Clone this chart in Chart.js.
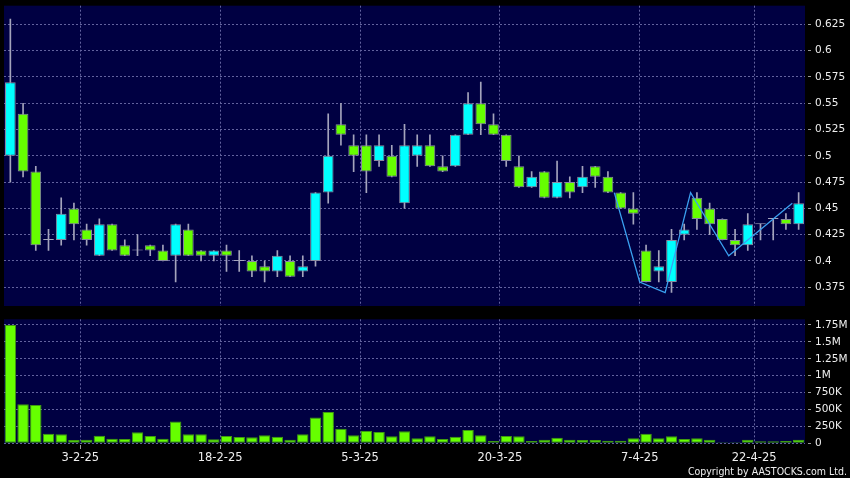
<!DOCTYPE html>
<html><head><meta charset="utf-8">
<script src="https://cdn.jsdelivr.net/npm/chart.js@4.4.0/dist/chart.umd.min.js"></script>
<style>
html,body{margin:0;padding:0;background:#000;width:850px;height:478px;overflow:hidden}
#p{position:absolute;left:0;top:0;width:850px;height:310px}
#v{position:absolute;left:0;top:310px;width:850px;height:168px}
#copy{position:absolute;right:3px;top:465px;color:#eeeeee;font-size:10.5px;line-height:13px;font-family:'DejaVu Sans Condensed','DejaVu Sans',sans-serif;white-space:nowrap}
</style></head><body>
<div id="p"><canvas id="pc"></canvas></div>
<div id="v"><canvas id="vc"></canvas></div>
<div id="copy">Copyright by AASTOCKS.com Ltd.</div>
<script>
// ---- data ----
const dates = ['21-1-25','22-1-25','23-1-25','24-1-25','27-1-25','28-1-25',
 '3-2-25','4-2-25','5-2-25','6-2-25','7-2-25','10-2-25','11-2-25','12-2-25','13-2-25','14-2-25','17-2-25',
 '18-2-25','19-2-25','20-2-25','21-2-25','24-2-25','25-2-25','26-2-25','27-2-25','28-2-25','3-3-25','4-3-25',
 '5-3-25','6-3-25','7-3-25','10-3-25','11-3-25','12-3-25','13-3-25','14-3-25','17-3-25','18-3-25','19-3-25',
 '20-3-25','21-3-25','24-3-25','25-3-25','26-3-25','27-3-25','28-3-25','31-3-25','1-4-25','2-4-25','3-4-25',
 '7-4-25','8-4-25','9-4-25','10-4-25','11-4-25','14-4-25','15-4-25','16-4-25','17-4-25',
 '22-4-25','23-4-25','24-4-25','25-4-25'];
const openP  = [0.50,0.54,0.485,0.42,0.42,0.45,0.43,0.405,0.435,0.415,0.41,0.415,0.41,0.405,0.43,0.41,0.405,
 0.41,0.40,0.40,0.395,0.39,0.40,0.39,0.40,0.465,0.53,0.51,0.51,0.495,0.50,0.455,0.50,0.51,0.49,0.49,0.52,
 0.55,0.53,0.52,0.49,0.47,0.485,0.46,0.475,0.47,0.49,0.48,0.465,0.45,0.41,0.39,0.38,0.425,0.46,0.45,0.44,
 0.42,0.415,0.435,0.44,0.44,0.435];
const highP  = [0.63,0.55,0.49,0.43,0.46,0.455,0.435,0.44,0.435,0.42,0.425,0.415,0.415,0.435,0.435,0.41,0.41,
 0.415,0.41,0.405,0.40,0.41,0.405,0.405,0.465,0.54,0.55,0.52,0.52,0.52,0.51,0.53,0.52,0.52,0.50,0.52,0.56,
 0.57,0.54,0.52,0.50,0.485,0.485,0.495,0.48,0.49,0.49,0.485,0.465,0.465,0.415,0.41,0.43,0.435,0.465,0.455,0.44,
 0.43,0.445,0.435,0.44,0.445,0.465];
const lowP   = [0.475,0.48,0.41,0.41,0.415,0.42,0.415,0.405,0.41,0.405,0.405,0.405,0.40,0.38,0.405,0.40,0.40,
 0.39,0.39,0.385,0.38,0.385,0.385,0.385,0.395,0.455,0.51,0.485,0.465,0.49,0.48,0.45,0.49,0.49,0.485,0.49,0.52,
 0.52,0.52,0.49,0.47,0.47,0.46,0.46,0.46,0.465,0.47,0.465,0.45,0.435,0.38,0.38,0.37,0.42,0.43,0.425,0.42,
 0.405,0.41,0.42,0.42,0.43,0.43];
const closeP = [0.57,0.485,0.415,0.42,0.445,0.435,0.42,0.435,0.41,0.405,0.41,0.41,0.40,0.435,0.405,0.405,0.41,
 0.405,0.40,0.39,0.39,0.405,0.385,0.395,0.465,0.50,0.52,0.50,0.485,0.51,0.48,0.51,0.51,0.49,0.485,0.52,0.55,
 0.53,0.52,0.495,0.47,0.48,0.46,0.475,0.465,0.48,0.48,0.465,0.45,0.445,0.38,0.395,0.42,0.43,0.44,0.435,0.42,
 0.415,0.435,0.435,0.44,0.435,0.455];
const volume = [1750000,579000,565000,142000,133000,49000,54000,113000,69000,64000,162000,108000,69000,324000,
 133000,133000,59000,108000,93000,88000,118000,98000,54000,133000,383000,462000,216000,118000,182000,167000,
 103000,177000,74000,103000,64000,98000,196000,118000,34000,108000,103000,34000,54000,83000,54000,49000,49000,
 39000,39000,74000,142000,74000,103000,64000,74000,54000,15000,15000,54000,29000,29000,34000,54000];
// overlay line (x in trading-day index units, y price)
const lineX = [47.5,49.5,51.5,53.5,56.5,61.5];
const lineY = [0.465,0.38,0.37,0.465,0.405,0.455];
const dateTickLabels = ['3-2-25','18-2-25','5-3-25','20-3-25','7-4-25','22-4-25'];
const priceTicks = [0.375,0.4,0.425,0.45,0.475,0.5,0.525,0.55,0.575,0.6,0.625];
const priceTickLabels = ['0.375','0.4','0.425','0.45','0.475','0.5','0.525','0.55','0.575','0.6','0.625'];
const volTicks = [0,250000,500000,750000,1000000,1250000,1500000,1750000];
const volTickLabels = ['0','250K','500K','750K','1M','1.25M','1.5M','1.75M'];

// ---- style ----
const UP='#00ffff', DOWN='#66ff00', EDGE='#8a8aa0', WICK='#a4a4bc', BG='#000042', GRID='#62629e', TXT='#eeeeee';
const YFONT={family:"'DejaVu Sans',sans-serif", size:10.5};
const XFONT={family:"'DejaVu Sans',sans-serif", size:11.5};
const navyBg={id:'navyBg',beforeDraw(c){const a=c.chartArea,ctx=c.ctx;ctx.save();ctx.fillStyle=BG;ctx.fillRect(a.left,a.top,a.right-a.left,a.bottom-a.top);ctx.restore();}};
const idx = dates.map((d,i)=>i);
const gridPos = dateTickLabels.map(l=>dates.indexOf(l)-0.5);

function xAxis(show){
  return {type:'linear',min:-0.5,max:dates.length-0.5,offset:false,
    grid:{offset:false,color:GRID,lineWidth:1,drawTicks:show,tickLength:6,tickColor:'#9a9a9a',tickBorderDash:[0,2,4,10]},
    border:{display:false,dash:[2,2]},
    ticks:{display:show,color:TXT,font:XFONT,padding:2,maxRotation:0,autoSkip:false,callback:(v,i)=>dateTickLabels[i]},
    afterBuildTicks:s=>{s.ticks=gridPos.map(v=>({value:v}));},
    afterFit:s=>{s.height=show?34.7:0;s.paddingLeft=0;s.paddingRight=0;}
  };
}
function yAxis(min,max,ticks,labels){
  return {type:'linear',position:'right',min:min,max:max,
    grid:{color:GRID,lineWidth:1,drawTicks:true,tickLength:6,tickColor:'#9a9a9a',tickBorderDash:[0,3,3,20]},
    border:{display:false,dash:[2,2]},
    ticks:{color:TXT,font:YFONT,padding:4,autoSkip:false,callback:(v,i)=>labels[i]},
    afterBuildTicks:s=>{s.ticks=ticks.map(v=>({value:v}));},
    afterFit:s=>{s.width=45;s.paddingTop=0;s.paddingBottom=0;}
  };
}
const isDoji=i=>openP[i]===closeP[i];

new Chart(document.getElementById('pc'),{
  type:'bar',
  data:{datasets:[
    {type:'line',data:lineX.map((x,k)=>({x:x,y:lineY[k]})),borderColor:'#3aa0f0',borderWidth:1.3,pointRadius:0,tension:0,order:0},
    {type:'bar',data:idx.map(i=>({x:i,y:[openP[i],closeP[i]]})),
      backgroundColor:c=>{const i=c.dataIndex;return isDoji(i)?WICK:(closeP[i]>openP[i]?UP:DOWN);},
      borderColor:c=>isDoji(c.dataIndex)?WICK:EDGE,
      borderWidth:1,borderSkipped:false,minBarLength:1,barPercentage:0.84,categoryPercentage:1,grouped:false,order:1},
    {type:'bar',data:idx.map(i=>({x:i,y:[lowP[i],highP[i]]})),backgroundColor:WICK,barThickness:1,grouped:false,order:2}
  ]},
  options:{responsive:true,maintainAspectRatio:false,animation:false,
    layout:{padding:{left:4,top:5.7,right:0,bottom:4}},
    plugins:{legend:{display:false},tooltip:{enabled:false}},
    scales:{x:xAxis(false),y:yAxis(0.3572,0.6427,priceTicks,priceTickLabels)}
  },
  plugins:[navyBg]
});

new Chart(document.getElementById('vc'),{
  type:'bar',
  data:{datasets:[
    {data:idx.map(i=>({x:i,y:volume[i]})),backgroundColor:DOWN,borderColor:'#3f9a10',borderWidth:1,borderSkipped:false,barPercentage:0.9,categoryPercentage:1}
  ]},
  options:{responsive:true,maintainAspectRatio:false,animation:false,
    layout:{padding:{left:4,top:9.3,right:0,bottom:0}},
    plugins:{legend:{display:false},tooltip:{enabled:false}},
    scales:{x:xAxis(true),y:yAxis(0,1834000,volTicks,volTickLabels)}
  },
  plugins:[navyBg]
});
</script>
</body></html>
